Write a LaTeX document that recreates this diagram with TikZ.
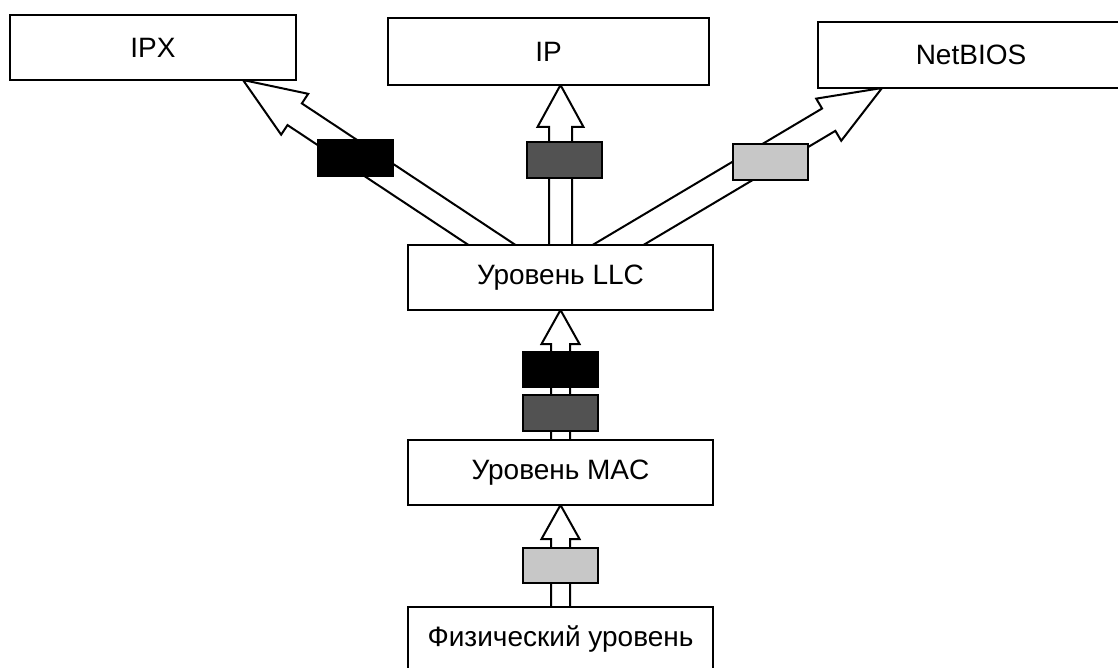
\documentclass[tikz,border=0pt]{standalone}
\usepackage{fontspec}
\setmainfont{Liberation Sans}
\usepackage{tikz}
\usetikzlibrary{calc, backgrounds}
\tikzstyle{lBox} = [rectangle, draw=black, line width=1pt, minimum height=32.5pt, inner sep=0pt, outer sep=0pt, fill=white, font=\fontsize{14}{16}\selectfont]
\tikzstyle{lFrame} = [rectangle, draw=black, line width=1pt, minimum width=37.5pt, minimum height=18pt, inner sep=0pt, outer sep=0pt]
\tikzstyle{fBlack} = [lFrame, fill=black]
\tikzstyle{fDark} = [lFrame, fill=black!68]
\tikzstyle{fLight} = [lFrame, fill=black!22]
\tikzset{
  hArrow/.style n args={3}{draw=black, fill=white, line width=1pt, line join=miter,
    to path={
      ($(\tikztostart)!#1!90:(\tikztotarget)$) --
      ($($(\tikztotarget)!#3!(\tikztostart)$)!#1!90:(\tikztotarget)$) --
      ($($(\tikztotarget)!#3!(\tikztostart)$)!#2!90:(\tikztotarget)$) --
      (\tikztotarget) --
      ($($(\tikztotarget)!#3!(\tikztostart)$)!#2!-90:(\tikztotarget)$) --
      ($($(\tikztotarget)!#3!(\tikztostart)$)!#1!-90:(\tikztotarget)$) --
      ($(\tikztostart)!#1!-90:(\tikztotarget)$)
    }}
}

\begin{document}
\begin{tikzpicture}[x=0.5pt, y=-0.5pt, node distance=97.5pt]
    \useasboundingbox (0,0) rectangle (1118,668);

    \node (ipx) [lBox, minimum width=143pt] at (153,47.5) {IPX};
    \node (ip) [lBox, minimum width=160.5pt, minimum height=33.5pt] at (548.5,51.5) {IP};
    \node (netbios) [lBox, minimum width=153pt, minimum height=33pt] at (971,55) {NetBIOS};
    \node (llc) [lBox, minimum width=152.5pt] at (560.5,277.5) {Уровень LLC};
    \node (mac) [lBox, minimum width=152.5pt, below of=llc] {Уровень MAC};
    \node (phys) [lBox, minimum width=152.5pt, below of=mac, yshift=14pt] {Физический уровень};

    % free ends of the slanted arrows, the base runs on under the LLC box
    \coordinate (ipxTip) at ($(ipx.south)+(90,0)$);
    \coordinate (ipxBase) at ($(ipxTip)!1.15!($(llc.north)+(-68.5,0)$)$);
    \coordinate (nbTip) at ($(netbios.south)+(-89,0)$);
    \coordinate (nbBase) at ($(nbTip)!1.15!($(llc.north)+(57.5,0)$)$);

    \begin{scope}[on background layer]
        \draw [hArrow={6.5pt}{12.25pt}{31pt}] (ipxBase) to (ipxTip);
        \draw [hArrow={5.75pt}{11.5pt}{21pt}] (llc.center) to (llc.north |- ip.south);
        \draw [hArrow={6.5pt}{12.25pt}{31pt}] (nbBase) to (nbTip);
        \draw [hArrow={4.75pt}{9.5pt}{17pt}] (mac.center) to (llc.south);
        \draw [hArrow={4.75pt}{9.5pt}{17pt}] (phys.center) to (mac.south);
    \end{scope}

    \node (ipxFrame) [fBlack] at (355,158.5) {};
    \node (ipFrame) [fDark] at (564,160) {};
    \node (nbFrame) [fLight] at (770.5,162) {};
    \node (llcFrame) [fBlack, minimum height=17.5pt] at (560.5,369.5) {};
    \node (macFrame) [fDark] at (560.5,413) {};
    \node (physFrame) [fLight, minimum height=17.5pt] at (560.5,565.5) {};
\end{tikzpicture}
\end{document}
